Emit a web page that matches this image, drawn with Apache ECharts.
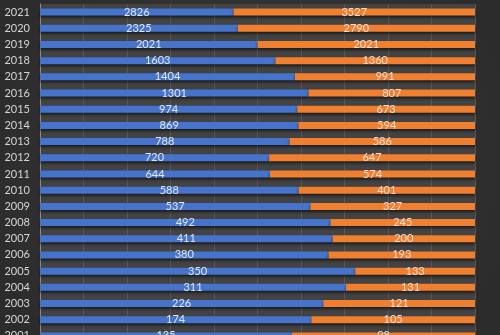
<!DOCTYPE html>
<html>
<head>
<meta charset="utf-8">
<style>
html,body{margin:0;padding:0;background:#333;}
#c{width:500px;height:335px;}
</style>
<script src="https://cdn.jsdelivr.net/npm/echarts@6/dist/echarts.min.js"></script>
</head>
<body>
<div id="c"></div>
<script>
const years = ['2001','2002','2003','2004','2005','2006','2007','2008','2009','2010','2011','2012','2013','2014','2015','2016','2017','2018','2019','2020','2021'];
const seriesA = [135,174,226,311,350,380,411,492,537,588,644,720,788,869,974,1301,1404,1603,2021,2325,2826];
const seriesB = [98,105,121,131,133,193,200,245,327,401,574,647,586,594,673,807,991,1360,2021,2790,3527];

const shareA = seriesA.map((v,i)=> v/(v+seriesB[i])*100);
const shareB = seriesB.map((v,i)=> v/(v+seriesA[i])*100);

const chart = echarts.init(document.getElementById('c'), null, {renderer:'canvas'});
const shadow = {shadowColor:'rgba(0,0,0,0.6)', shadowBlur:3, shadowOffsetY:2};
chart.setOption({
  animation:false,
  backgroundColor:{type:'radial',x:0.5,y:0.5,r:0.8,colorStops:[{offset:0,color:'#3c3c3c'},{offset:1,color:'#2c2c2c'}]},
  grid:{left:40,top:4,width:435,height:340,outerBoundsMode:'none',containLabel:false,show:true,backgroundColor:'#434343',borderWidth:0},
  xAxis:{type:'value',min:0,max:100,interval:10,
    axisLabel:{show:false},axisLine:{show:false},axisTick:{show:false},
    splitLine:{show:true,lineStyle:{color:'#585858',width:1}}},
  yAxis:{type:'category',data:years,
    axisLine:{show:true,lineStyle:{color:'#8c8c8c',width:1}},
    axisTick:{show:false},
    axisLabel:{color:'#d6d6d6',fontSize:11,fontFamily:'Lato',margin:10}},
  series:[
    {type:'bar',stack:'t',data:shareA,barWidth:7,
      itemStyle:Object.assign({color:'#4674cc'},shadow),
      label:{show:true,position:'inside',color:'#dfe6f3',fontSize:11,fontFamily:'Lato',
        formatter:p=>seriesA[p.dataIndex]}},
    {type:'bar',stack:'t',data:shareB,barWidth:7,
      itemStyle:Object.assign({color:'#f07f30'},shadow),
      label:{show:true,position:'inside',color:'#f5dccb',fontSize:11,fontFamily:'Lato',
        formatter:p=>seriesB[p.dataIndex]}}
  ]
});
</script>
</body>
</html>
